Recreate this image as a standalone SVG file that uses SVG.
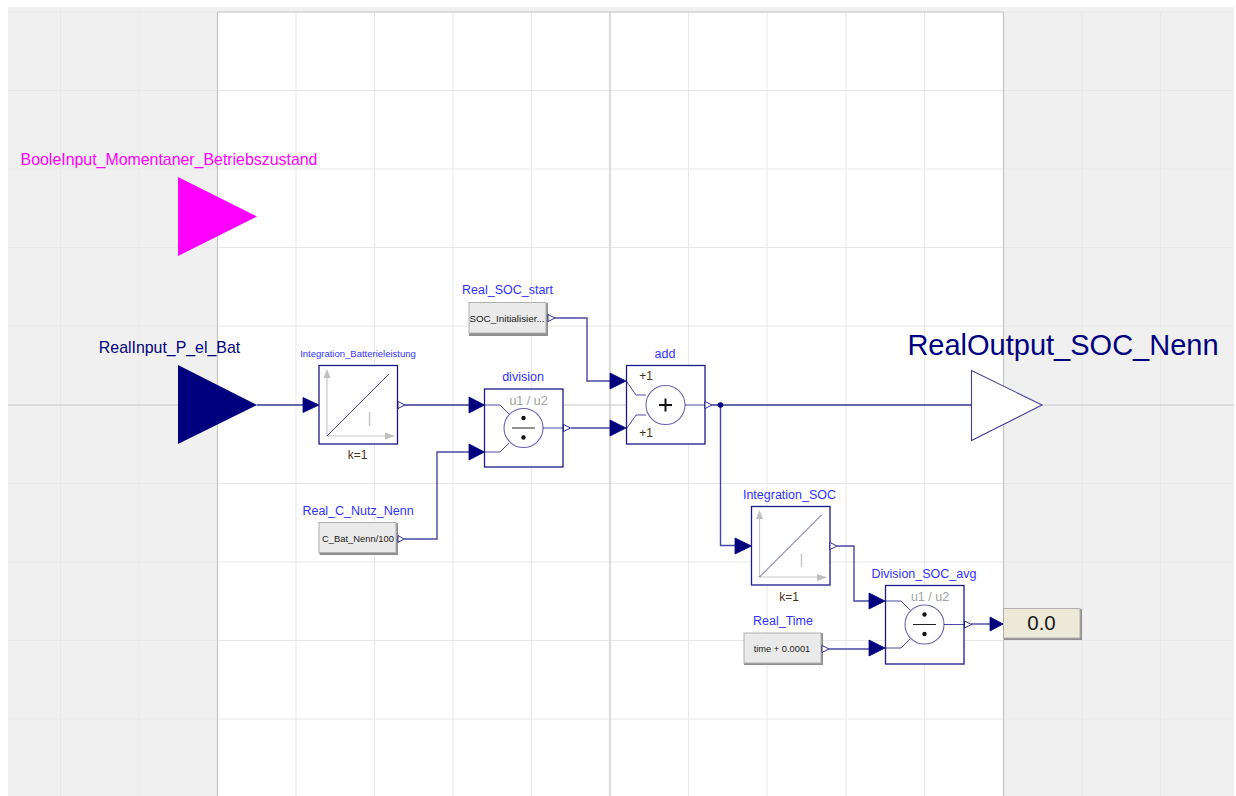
<svg xmlns="http://www.w3.org/2000/svg" width="1236" height="796" viewBox="0 0 1236 796">
<style>
text{font-family:"Liberation Sans",Arial,sans-serif;text-anchor:middle}
.lbl{fill:#3232ff;font-size:12.5px}
.g{stroke:#e8e8e8;stroke-width:1;fill:none}
.gd{stroke:#c6c6c6;stroke-width:1.2;fill:none}
.w{stroke:#00007f;stroke-width:1.4;fill:none;stroke-opacity:.72}
.bx{fill:#fff;stroke:#1a1a8c;stroke-width:1.3}
.in{fill:#00007f;stroke:#00007f;stroke-width:.8}
.out{fill:#fff;stroke:#00007f;stroke-width:1;stroke-opacity:.8}
.ln{stroke:#00007f;stroke-width:1;fill:none;opacity:.7}
.cir{fill:#fff;stroke:#00007f;stroke-width:1.1;stroke-opacity:.6}
.ax{stroke:#c8c8c8;stroke-width:1.2;fill:none}
.axh{fill:#c0c0c0}
.cst{fill:#eaeaea;stroke:#b0b0b0;stroke-width:1}
.sh{fill:#8f8f8f}
.ct{fill:#1a1a1a}
.par{fill:#4d3319;font-size:12px}
.uu{fill:#a0a0a0;font-size:12.500px}
.dot{fill:#111}
</style>
<rect width="1236" height="796" fill="#fff"/>
<rect x="8" y="7" width="1226" height="789" fill="#f0f0f0"/>
<rect x="217.500" y="12" width="786" height="784" fill="#fff"/>
<g id="grid">
<path class="g" d="M60.500 7V796M139 7V796M296 12V796M374.500 12V796M453 12V796M531.500 12V796M688.500 12V796M767 12V796M846 12V796M924.500 12V796M1082 12V796M1160.500 12V796"/>
<path class="g" d="M8 12H1234M8 90.500H1234M8 169H1234M8 247.500H1234M8 326H1234M8 483.500H1234M8 562H1234M8 640.500H1234M8 719H1234"/>
<path class="gd" d="M217.500 12V796M1003.500 12V796M610 12V796M8 405H1234M217.500 12H1003.500"/>
</g>
<g id="connectors">
<path class="w" d="M257 405H303"/>
<path class="w" d="M405 405H469"/>
<path class="w" d="M404 539H437V452H469"/>
<path class="w" d="M555 318H587V381H610"/>
<path class="w" d="M571 428H610"/>
<path class="w" d="M712 405H971"/>
<path class="w" d="M720.500 405V545.500H735"/>
<circle cx="720.500" cy="405" r="2.800" fill="#00007f"/>
<path class="w" d="M837 546H854V601H869"/>
<path class="w" d="M829 649H869"/>
<path class="w" d="M971 624H990"/>
</g>
<g id="BooleInput_Momentaner_Betriebszustand">
<text x="169" y="165" font-size="15.900" fill="#ff00ff">BooleInput_Momentaner_Betriebszustand</text>
<polygon points="178,177 257,216.500 178,256" fill="#ff00ff"/>
</g>
<g id="RealInput_P_el_Bat">
<text x="169.500" y="353" font-size="15.900" fill="#00007f">RealInput_P_el_Bat</text>
<polygon points="178,365 257,405 178,444" fill="#00007f"/>
</g>
<g id="Integration_Batterieleistung">
<text x="358" y="357" style="font-size:9.500px" class="lbl">Integration_Batterieleistung</text>
<polygon class="in" points="303,397.500 319,405 303,412.500"/>
<rect class="bx" x="319" y="365.500" width="78.500" height="78.500"/>
<path class="ax" d="M327 436V376M327 436H392"/>
<polygon class="axh" points="323.500,378 330.500,378 327,369"/>
<polygon class="axh" points="385,432.500 385,439.500 395,436"/>
<path class="ln" d="M327 436L389 374"/>
<path d="M369.500 412V426" stroke="#c8c8c8" stroke-width="1.500"/>
<polygon class="out" points="398,401.500 405,405 398,408.500"/>
<text x="357.500" y="459" class="par">k=1</text>
</g>
<g id="Real_C_Nutz_Nenn">
<text x="358" y="515" class="lbl">Real_C_Nutz_Nenn</text>
<rect class="sh" x="319.500" y="523" width="78.500" height="32"/>
<rect class="cst" x="319" y="522.500" width="77" height="30"/>
<text x="358" y="542" class="ct" font-size="9.400">C_Bat_Nenn/100</text>
<polygon class="out" points="398,535.500 404,539 398,542.500"/>
</g>
<g id="division">
<text x="523" y="381" class="lbl">division</text>
<polygon class="in" points="469,397 484.500,405 469,413"/>
<polygon class="in" points="469,444 484.500,452 469,460"/>
<rect class="bx" x="484.500" y="389" width="78.500" height="78"/>
<text x="528.500" y="405" class="uu">u1 / u2</text>
<path class="ln" d="M485 405H500L509 414M485 452H500L509 443M543 428H563"/>
<circle cx="523.500" cy="428" r="19.500" class="cir"/>
<path d="M512 428H535" stroke="#222" stroke-width="1"/>
<circle cx="523.500" cy="418" r="2.200" class="dot"/>
<circle cx="523.500" cy="437.500" r="2.200" class="dot"/>
<polygon class="out" points="563.500,424.500 570.500,428 563.500,431.500"/>
</g>
<g id="Real_SOC_start">
<text x="507.500" y="294" class="lbl">Real_SOC_start</text>
<rect class="sh" x="469" y="303" width="79" height="33"/>
<rect class="cst" x="469" y="302.500" width="77" height="30.500"/>
<text x="507" y="322" class="ct" font-size="9.800">SOC_Initialisier...</text>
<polygon class="out" points="548,314.500 555,318 548,321.500"/>
</g>
<g id="add">
<text x="665" y="358" class="lbl">add</text>
<polygon class="in" points="610,373 626,381 610,389"/>
<polygon class="in" points="610,420 626,428 610,436"/>
<rect class="bx" x="626.500" y="365.500" width="78.500" height="78.500"/>
<path class="ln" d="M627 382L636 395H646M627 428L636 415H646M685 405H705"/>
<circle cx="665.500" cy="405" r="19.500" class="cir"/>
<text x="646" y="380" class="par">+1</text>
<text x="646" y="437" class="par">+1</text>
<path d="M659 405H672M665.500 398.500V411.500" stroke="#111" stroke-width="2"/>
<polygon class="out" points="705,401.500 712,405 705,408.500"/>
</g>
<g id="RealOutput_SOC_Nenn">
<text x="1063" y="355" font-size="29" fill="#00007f">RealOutput_SOC_Nenn</text>
<polygon points="971.500,370.500 1042,405 971.500,440.500" fill="#fff" stroke="#00007f" stroke-width="1.100" stroke-opacity=".75"/>
</g>
<g id="Integration_SOC">
<text x="789.500" y="499" class="lbl">Integration_SOC</text>
<polygon class="in" points="735,538 751.500,546 735,554"/>
<rect class="bx" x="751.500" y="506.500" width="78.500" height="78.500"/>
<path class="ax" d="M759.500 577V517M759.500 577H825"/>
<polygon class="axh" points="756,519 763,519 759.500,510"/>
<polygon class="axh" points="817,574 817,581 827,577.500"/>
<path class="ln" d="M759.500 577L821.500 515"/>
<path d="M801.500 554V567" stroke="#c8c8c8" stroke-width="1.500"/>
<polygon class="out" points="830,542.500 837,546 830,549.500"/>
<text x="789" y="601" class="par">k=1</text>
</g>
<g id="Division_SOC_avg">
<text x="924" y="578" class="lbl">Division_SOC_avg</text>
<polygon class="in" points="869,593 885,601 869,609"/>
<polygon class="in" points="869,640 885,648 869,656"/>
<rect class="bx" x="885.500" y="585.500" width="78.500" height="78.500"/>
<text x="930" y="601" class="uu">u1 / u2</text>
<path class="ln" d="M885 601H901L910 610M885 648H901L910 639M944 624.500H965"/>
<circle cx="924.500" cy="624.500" r="19.500" class="cir"/>
<path d="M913 624.500H936" stroke="#222" stroke-width="1"/>
<circle cx="924.500" cy="614.500" r="2.200" class="dot"/>
<circle cx="924.500" cy="634" r="2.200" class="dot"/>
<polygon class="out" points="964.500,621 971.500,624.500 964.500,628"/>
</g>
<g id="Real_Time">
<text x="783" y="625" class="lbl">Real_Time</text>
<rect class="sh" x="744" y="633" width="79" height="32"/>
<rect class="cst" x="744" y="633" width="77" height="30"/>
<text x="782" y="652" class="ct" font-size="9.300">time + 0.0001</text>
<polygon class="out" points="822,645.500 829,649 822,652.500"/>
</g>
<g id="display">
<polygon class="in" points="990,617 1003,624 990,631"/>
<rect class="sh" x="1004" y="609" width="78" height="31"/>
<rect x="1003.500" y="608.500" width="76.500" height="29.500" fill="#ece9d8" stroke="#b0b0b0"/>
<text x="1041.500" y="630" font-size="20.500" fill="#1a1a1a">0.0</text>
</g>
</svg>
